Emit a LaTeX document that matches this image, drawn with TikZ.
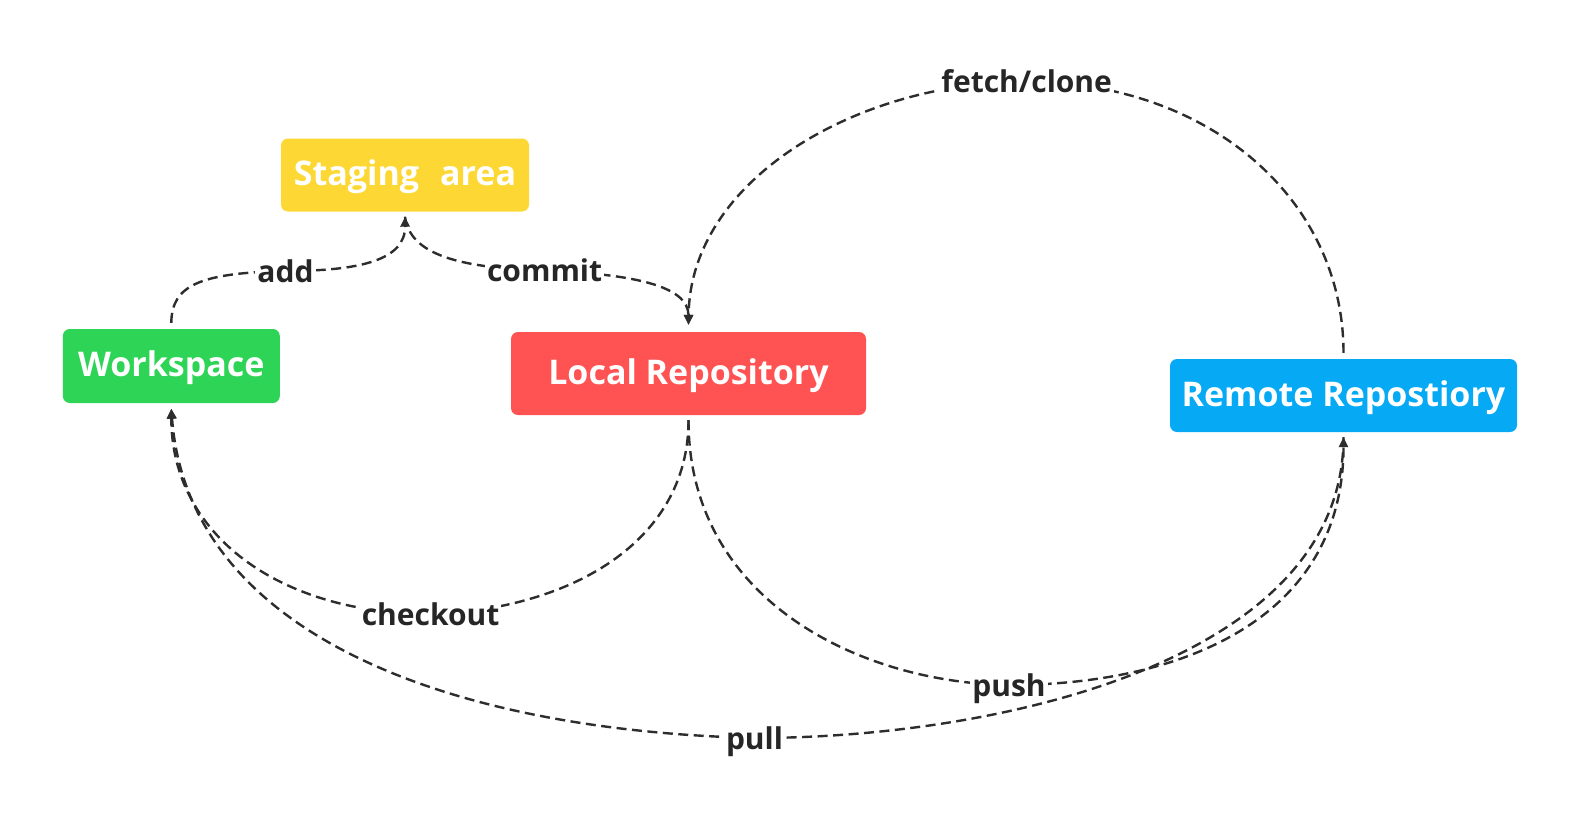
\documentclass[tikz,border=0pt]{standalone}
\usepackage{fontspec}
\setmainfont{Open Sans}
\usetikzlibrary{arrows.meta}
\definecolor{cyel}{RGB}{253,216,53}
\definecolor{cgrn}{RGB}{45,212,85}
\definecolor{cred}{RGB}{255,82,82}
\definecolor{cblu}{RGB}{5,169,244}
\definecolor{cline}{RGB}{45,45,45}
\definecolor{ctext}{RGB}{38,38,38}
\begin{document}
\begin{tikzpicture}[x=1pt,y=-1pt,
  box/.style={rectangle, rounded corners=7pt, text=white, inner sep=0pt,
    text height=24pt, text depth=3pt,
    font=\fontsize{34}{40}\selectfont\bfseries},
  conn/.style={draw=cline, line width=2.4pt, dash pattern=on 10pt off 5.5pt},
  arr/.style={-{Triangle[length=10pt,width=9pt]}},
  lbl/.style={fill=white, text=ctext, inner xsep=2pt, inner ysep=1pt,
    text height=22pt, text depth=0pt,
    font=\fontsize{30}{34}\selectfont\bfseries}]
\useasboundingbox (0,0) rectangle (1580,822);

\node[box, fill=cyel, minimum width=248pt, minimum height=73pt] (st) at (405,175) {Staging\hspace{0.62em}area};
\node[box, fill=cgrn, minimum width=217pt, minimum height=74pt] (ws) at (171.3,366) {Workspace};
\node[box, fill=cred, minimum width=355pt, minimum height=83pt] (lr) at (688.5,373.5) {Local Repository};
\node[box, fill=cblu, minimum width=347pt, minimum height=73pt] (rr) at (1343.5,395.5) {Remote Repostiory};

% add
\draw[conn, arr] ([yshift=6pt]ws.north) .. controls (171.7,285) and (200,273) .. (285.5,271)
  node[lbl] {add}
  .. controls (360,271) and (405.5,260) .. ([yshift=-5pt]st.south);
% commit
\draw[conn, arr] ([yshift=-5pt]st.south) .. controls (410,255) and (460,268) .. (544.6,270.5)
  node[lbl] {commit}
  .. controls (630,274) and (688.5,285) .. ([yshift=7pt]lr.north);
% fetch/clone
\draw[conn, arr] ([yshift=6pt]rr.north) .. controls (1343.5,200) and (1210,82) .. (1026.7,81.7)
  node[lbl] {fetch/clone}
  .. controls (857,81.7) and (690,180) .. ([yshift=7pt]lr.north);
% checkout
\draw[conn, arr] ([yshift=-5pt]lr.south) .. controls (688.5,545) and (565,610) .. (430.6,614)
  node[lbl] {checkout}
  .. controls (280,614) and (171.3,535) .. ([yshift=-5.5pt]ws.south);
% pull
\draw[conn, arr] ([yshift=-5pt]rr.south) .. controls (1343.5,660) and (1000,738) .. (754.5,738)
  node[lbl] {pull}
  .. controls (440,730) and (188,630) .. ([yshift=-5.5pt]ws.south);
% push
\draw[conn, arr] ([yshift=-5pt]lr.south) .. controls (688.5,600) and (860,683) .. (1009,685)
  node[lbl] {push}
  .. controls (1180,685) and (1343.5,620) .. ([yshift=-5pt]rr.south);
\end{tikzpicture}
\end{document}
